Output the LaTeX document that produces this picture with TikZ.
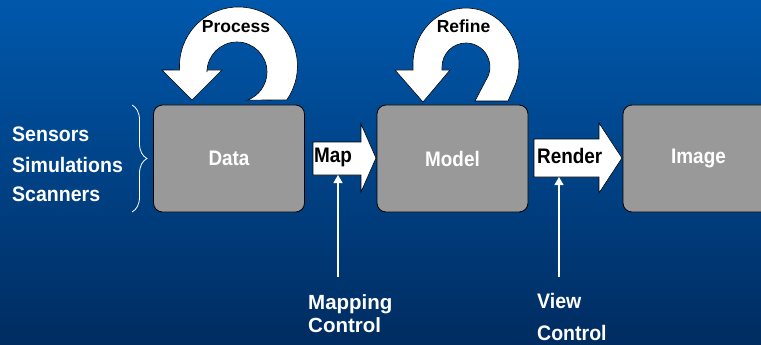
\documentclass[tikz,border=0pt]{standalone}
\usepackage{fontspec}
\setmainfont{Liberation Sans}
\newfontfamily\narrowsans{Liberation Sans}[FakeStretch=0.9]
\newfontfamily\semisans{Liberation Sans}[FakeStretch=0.93]
\usetikzlibrary{arrows.meta,decorations.pathreplacing}

\definecolor{bgtop}{RGB}{0,88,172}
\definecolor{bgbot}{RGB}{0,44,96}
\definecolor{boxgray}{RGB}{153,153,153}

\begin{document}
\begin{tikzpicture}[x=1pt,y=-1pt,
  box/.style={draw=black, fill=boxgray, rounded corners=9pt, line width=0.8pt,
    minimum width=151pt, minimum height=107pt, inner sep=0pt,
    text=white, font=\narrowsans\fontsize{21}{24}\selectfont\bfseries},
  blockarrow/.style={draw=black, fill=white, line width=0.6pt, line join=miter},
  uturn/.style={draw=black, fill=white, line width=0.6pt, line join=miter},
  arrowlabel/.style={anchor=base west, inner sep=0pt, text=black,
    font=\narrowsans\fontsize{21}{24}\selectfont\bfseries},
  looplabel/.style={anchor=base, inner sep=0pt, text=black,
    font=\fontsize{17.5}{20}\selectfont\bfseries},
  sidelabel/.style={anchor=base west, inner sep=0pt, text=white,
    font=\semisans\fontsize{21}{24}\selectfont\bfseries},
  ctllabel/.style={anchor=base west, inner sep=0pt, text=white,
    font=\fontsize{20.5}{24}\selectfont\bfseries},
  ctl/.style={draw=white, line width=1.2pt,
    -{Triangle[length=8pt,width=9pt,fill=white]}},
  sourcebrace/.style={draw=white, line width=0.8pt,
    decorate, decoration={brace, amplitude=15pt}}
]
\useasboundingbox (0,0) rectangle (761,345);
\clip (0,0) rectangle (761,345);

% background
\shade[top color=bgtop, bottom color=bgbot] (0,0) rectangle (761,345);

% pipeline stages
\node[box] (data)  at (229,158.5)   {Data};
\node[box] (model) at (452.5,158.5) {Model};
\node[box] (image) at (698.5,158.5) {Image};

% block arrows between stages
\path[blockarrow] (313,142) -- (361,142) -- (361,124) -- (376,158)
  -- (361,192) -- (361,175) -- (313,175) -- cycle;
\coordinate (mapedge) at (338,175);
\node[arrowlabel] (maplabel) at (314,162) {Map};

\path[blockarrow] (534,139) -- (599,139) -- (599,123) -- (622,158)
  -- (599,193) -- (599,177) -- (534,177) -- cycle;
\coordinate (renderedge) at (559,177);
\node[arrowlabel] (renderlabel) at (537,163) {Render};

% loop arrows above the first two stages
\path[uturn] (222,70) -- (207,70) -- (207,72)
  arc[start angle=180, end angle=430, radius=30]
  -- (286.8,99.8)
  arc[start angle=35, end angle=-184, radius=59]
  -- (162,70) -- (192,100) -- cycle;
\node[looplabel] (processlabel) at (236,33) {Process};

\path[uturn] (450,70) -- (442,70) -- (442,67)
  arc[start angle=180, end angle=380, radius=24]
  -- (475,101) -- (508,101) -- (515.8,83.2)
  arc[start angle=20, end angle=-184, x radius=53, y radius=56]
  -- (413,70) -- (395,70) -- (423,102) -- cycle;
\node[looplabel] (refinelabel) at (463.5,33) {Refine};

% data sources
\node[sidelabel] (sensors) at (12,142) {Sensors};
\node[sidelabel] (simulations) at (12,172) {Simulations};
\node[sidelabel] (scanners) at (12,201) {Scanners};
\coordinate (bracetop) at (132,105);
\coordinate (bracebot) at (132,212);
\draw[sourcebrace] (bracetop) -- (bracebot);

% control inputs
\node[ctllabel] (mapping) at (308,309) {Mapping};
\node[ctllabel] (mapcontrol) at (308,332) {Control};
\coordinate (mapfoot) at (338,277);
\draw[ctl] (mapfoot) -- (mapedge);

\node[sidelabel] (view) at (537,308) {View};
\node[sidelabel] (viewcontrol) at (537,340) {Control};
\coordinate (viewfoot) at (559,277);
\draw[ctl] (viewfoot) -- (renderedge);
\end{tikzpicture}
\end{document}
